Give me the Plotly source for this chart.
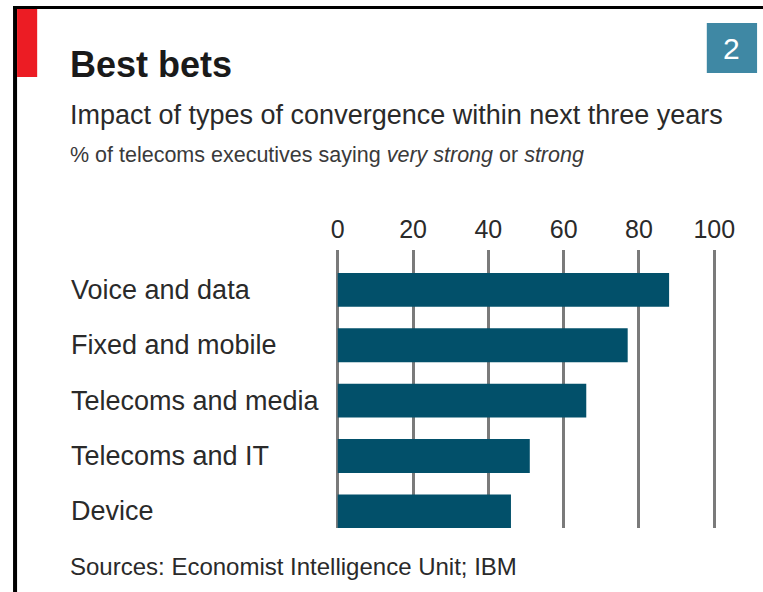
import plotly.graph_objects as go

# Dati
categories = ["Voice and data", "Fixed and mobile", "Telecoms and media",
              "Telecoms and IT", "Device"]
values = [88, 77, 66, 51, 46]
tick_values = [0, 20, 40, 60, 80, 100]

W, H = 763, 592
# larghezza effettiva della carta osservata nel rendering (e suo scostamento)
W_EFF, X_OFF = 735, 9
FONT = "Liberation Sans, Arial, sans-serif"
BAR_COLOR = "#02506a"
GRID_COLOR = "#7a7a7a"
TEXT_COLOR = "#2a2a2a"


def px(x):
    return (x - X_OFF) / W_EFF


def py(y):
    return 1 - y / H


fig = go.Figure()

fig.add_trace(go.Bar(
    x=values, y=categories, orientation="h",
    marker=dict(color=BAR_COLOR, line=dict(width=0)),
    width=0.61, hoverinfo="x+y",
))

# Etichette categorie (allineate a sinistra)
annotations = []
for cat in categories:
    annotations.append(dict(
        text=cat, x=px(73), xref="paper", xanchor="left",
        y=cat, yref="y", yanchor="middle", showarrow=False,
        font=dict(family=FONT, size=27, color=TEXT_COLOR),
    ))

# Titoli e note
annotations += [
    dict(text="<b>Best bets</b>", x=px(72), y=py(64), xanchor="left", yanchor="middle",
         font=dict(family=FONT, size=36, color="#1a1a1a")),
    dict(text="Impact of types of convergence within next three years",
         x=px(72), y=py(115), xanchor="left", yanchor="middle",
         font=dict(family=FONT, size=27, color=TEXT_COLOR)),
    dict(text="% of telecoms executives saying <i>very strong</i> or <i>strong</i>",
         x=px(72), y=py(155), xanchor="left", yanchor="middle",
         font=dict(family=FONT, size=21.5, color="#3a3a3a")),
    dict(text="Sources: Economist Intelligence Unit; IBM",
         x=px(72), y=py(566), xanchor="left", yanchor="middle",
         font=dict(family=FONT, size=24, color=TEXT_COLOR)),
    dict(text="2", x=px(732), y=py(48), xanchor="center", yanchor="middle",
         font=dict(family=FONT, size=30, color="white")),
]
for a in annotations:
    a.setdefault("xref", "paper")
    a.setdefault("yref", "paper")
    a.setdefault("showarrow", False)

shapes = [
    # bordo nero sinistro e superiore
    dict(type="rect", x0=px(17), x1=px(21), y0=py(592), y1=py(6),
         fillcolor="black", line=dict(width=0)),
    dict(type="rect", x0=px(17), x1=px(763), y0=py(9), y1=py(6),
         fillcolor="black", line=dict(width=0)),
    # rettangolo rosso
    dict(type="rect", x0=px(21), x1=px(41), y0=py(77), y1=py(9),
         fillcolor="#ec1c24", line=dict(width=0)),
    # riquadro numero
    dict(type="rect", x0=px(707), x1=px(757), y0=py(73), y1=py(23),
         fillcolor="#3f88a4", line=dict(width=0)),
]
for s in shapes:
    s["xref"] = "paper"
    s["yref"] = "paper"

fig.update_layout(
    width=W, height=H, autosize=False,
    margin=dict(l=0, r=0, t=0, b=0),
    paper_bgcolor="white", plot_bgcolor="white",
    showlegend=False,
    annotations=annotations,
    shapes=shapes,
    xaxis=dict(
        domain=[px(337.7), px(716.7)], range=[-0.6, 100.6],
        side="top", tickvals=tick_values, showgrid=True,
        gridcolor=GRID_COLOR, gridwidth=3, zeroline=False, showline=False,
        ticks="", ticklabelstandoff=6,
        tickfont=dict(family=FONT, size=25, color=TEXT_COLOR),
        fixedrange=True,
    ),
    yaxis=dict(
        domain=[py(528), py(250)], range=[4.3, -0.72],
        categoryorder="array", categoryarray=categories,
        showticklabels=False, showgrid=False, zeroline=False, showline=False,
        ticks="", fixedrange=True,
    ),
)

post = """
document.body.style.margin='0';
document.body.style.overflow='hidden';
"""
fig.write_html(
    "out.html",
    post_script=post,
    config={"displayModeBar": False, "responsive": False},
)
